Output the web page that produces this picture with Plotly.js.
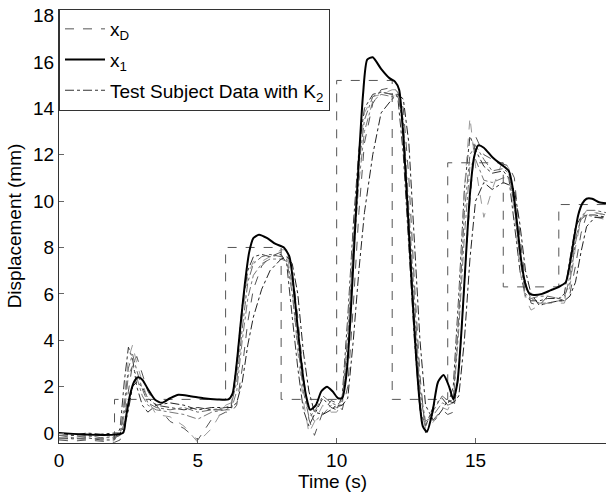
<!DOCTYPE html>
<html>
<head>
<meta charset="utf-8">
<script src="https://cdn.plot.ly/plotly-3.0.1.min.js"></script>
<style>html,body{margin:0;padding:0;background:#fff;}#chart{width:607px;height:493px;}</style>
</head>
<body>
<div id="chart"></div>
<script>
// Desired trajectory x_D (step values, held until next step time)
var tD = [0, 2, 6, 8, 10, 12, 14, 16, 18, 19.7];
var xD = [-0.25, 1.45, 8.0, 1.45, 15.2, 1.45, 11.65, 6.3, 9.85, 9.85];

// Model response x_1
var t1 = [0, 2.3, 2.4, 2.55, 2.7, 2.85, 3.0, 3.2, 3.45, 3.7, 4.0, 4.3, 4.7, 5.2, 5.7, 6.1, 6.25, 6.4, 6.55, 6.7,
          6.85, 7.0, 7.2, 7.5, 7.8, 8.1, 8.3, 8.45, 8.6, 8.75, 8.9, 9.05, 9.25, 9.45, 9.65, 9.85, 10.05, 10.2, 10.35, 10.5,
          10.65, 10.8, 10.95, 11.1, 11.3, 11.6, 11.9, 12.1, 12.25, 12.4, 12.55, 12.7, 12.85, 13.0, 13.1, 13.25, 13.45, 13.65, 13.85, 14.05,
          14.2, 14.35, 14.5, 14.65, 14.8, 14.95, 15.1, 15.3, 15.6, 15.9, 16.2, 16.35, 16.5, 16.65, 16.8, 16.95, 17.1, 17.4, 17.7, 18.0,
          18.25, 18.4, 18.55, 18.7, 18.85, 19.0, 19.2, 19.45, 19.7];
var x1 = [0, 0, 0.6, 1.6, 2.2, 2.4, 2.3, 1.9, 1.45, 1.3, 1.5, 1.65, 1.6, 1.5, 1.45, 1.45, 1.7, 3.0, 4.8, 6.5,
          7.8, 8.4, 8.55, 8.4, 8.15, 8.0, 7.6, 6.3, 4.5, 2.8, 1.6, 1.0, 1.2, 1.8, 2.0, 1.8, 1.5, 1.5, 2.5, 5.0,
          8.5, 11.8, 14.6, 16.1, 16.2, 15.7, 15.3, 15.15, 14.8, 12.8, 9.8, 6.5, 3.5, 1.2, 0.3, 0.05, 0.9, 2.2, 2.5, 2.0,
          1.45, 2.2, 4.5, 7.5, 10.3, 11.9, 12.4, 12.3, 11.9, 11.6, 11.3, 10.5, 9.0, 7.4, 6.4, 6.0, 5.95, 6.0, 6.15, 6.3,
          6.5, 7.3, 8.4, 9.4, 9.9, 10.1, 10.1, 9.95, 9.9];

// Test subject data with K_2 (shared time base)
var tS = [0, 0.5, 1, 1.5, 2, 2.2, 2.35, 2.5, 2.65, 2.8,
          3, 3.2, 3.5, 4, 4.5, 5, 5.5, 6, 6.2, 6.4,
          6.6, 6.8, 7, 7.3, 7.6, 8, 8.2, 8.4, 8.6, 8.8,
          9, 9.2, 9.5, 9.8, 10, 10.2, 10.4, 10.6, 10.8, 11,
          11.3, 11.6, 12, 12.2, 12.4, 12.6, 12.8, 13, 13.2, 13.5,
          13.8, 14, 14.2, 14.4, 14.6, 14.8, 15, 15.3, 15.6, 16,
          16.2, 16.4, 16.6, 16.8, 17, 17.3, 17.6, 18, 18.2, 18.4,
          18.6, 18.8, 19, 19.3, 19.7];
var s1 = [-0.2, -0.25, -0.2, -0.3, -0.3, 0.2, 2.2, 3.7, 3.2, 2.0,
          1.2, 0.9, 1.2, 1.1, 1.0, 1.1, 1.0, 1.0, 1.1, 3.0,
          5.5, 7.0, 7.6, 7.7, 7.6, 7.7, 7.3, 5.0, 2.8, 1.0,
          0.3, 0.8, 1.5, 1.1, 1.0, 1.6, 5.0, 9.0, 12.2, 14.0,
          14.6, 14.7, 14.6, 14.5, 12.0, 8.0, 4.0, 1.0, 0.3, 1.2,
          1.5, 1.2, 2.0, 6.0, 10.5, 12.8, 12.2, 11.5, 11.2, 11.3,
          11.0, 9.0, 7.0, 5.9, 5.7, 5.7, 5.8, 5.8, 6.0, 7.5,
          8.9, 9.3, 9.4, 9.4, 9.3];
var s2 = [-0.1, -0.1, -0.15, -0.1, -0.15, -0.1, 0.8, 2.5, 2.9, 2.4,
          1.6, 1.2, 1.0, 0.9, 0.8, 0.6, 0.9, 1.0, 1.0, 1.8,
          4.0, 5.8, 6.8, 7.3, 7.5, 7.5, 7.4, 6.5, 4.2, 2.2,
          1.0, 0.5, 0.8, 1.2, 1.1, 1.2, 3.5, 7.5, 10.8, 13.0,
          14.3, 14.6, 14.5, 14.6, 13.5, 9.5, 5.5, 2.0, 0.5, 0.8,
          1.3, 1.2, 1.3, 4.5, 8.5, 11.5, 11.8, 10.9, 10.8, 11.0,
          11.0, 10.0, 7.8, 6.3, 5.8, 5.6, 5.6, 5.7, 5.7, 6.8,
          8.4, 9.2, 9.4, 9.3, 9.2];
var s3 = [-0.3, -0.35, -0.3, -0.35, -0.4, -0.3, 0.5, 1.8, 3.0, 3.3,
          2.6, 1.8, 1.2, 0.5, 0.2, -0.3, 0.6, 0.9, 0.9, 1.2,
          2.8, 4.8, 6.2, 7.2, 7.6, 7.8, 7.8, 7.0, 5.0, 2.5,
          0.6, -0.1, 0.9, 1.4, 1.3, 1.0, 2.0, 5.5, 9.5, 12.5,
          14.2, 14.8, 14.9, 14.7, 14.0, 11.0, 6.5, 2.5, 0.0, 0.6,
          1.0, 0.8, 0.9, 2.5, 6.5, 10.0, 12.8, 12.0, 11.8, 11.6,
          11.5, 11.0, 8.5, 6.5, 5.6, 5.5, 5.9, 5.8, 5.7, 6.0,
          7.2, 8.6, 9.4, 9.5, 9.4];
var s4 = [0.0, -0.1, 0.0, -0.05, 0.0, 0.0, 0.2, 1.0, 2.0, 2.2,
          2.0, 1.5, 1.2, 1.3, 1.2, 1.0, 1.1, 1.1, 1.1, 1.3,
          2.2, 3.8, 5.0, 6.2, 7.0, 7.5, 7.6, 7.3, 6.0, 3.5,
          1.8, 0.9, 0.8, 1.0, 1.2, 1.2, 1.5, 4.0, 7.0, 9.5,
          12.0, 13.8, 14.4, 14.6, 14.4, 12.5, 8.5, 4.0, 1.2, 0.5,
          1.0, 1.4, 1.3, 1.6, 4.0, 7.5, 10.0, 10.8, 10.5, 10.8,
          10.7, 10.5, 9.0, 7.0, 6.0, 5.5, 5.6, 5.7, 5.7, 5.9,
          6.5, 7.8, 8.9, 9.3, 9.3];
var s5 = [-0.2, -0.2, -0.3, -0.2, -0.25, 0.0, 1.5, 3.2, 3.8, 3.0,
          2.2, 1.4, 0.8, 0.7, 0.3, -0.4, 0.2, 1.2, 1.3, 2.5,
          5.0, 6.8, 7.4, 7.4, 7.6, 7.9, 7.9, 6.2, 3.5, 1.4,
          0.0, 0.5, 1.2, 0.9, 0.9, 1.3, 4.5, 8.5, 11.8, 13.8,
          14.5, 14.6, 14.8, 14.8, 13.0, 8.5, 4.5, 1.2, 0.2, 0.5,
          1.1, 1.0, 1.5, 5.5, 10.5, 13.6, 11.5, 9.3, 10.5, 11.8,
          11.4, 9.5, 7.0, 5.8, 5.3, 5.5, 5.6, 5.6, 5.6, 6.3,
          8.0, 9.2, 9.6, 9.5, 9.4];
var s6 = [-0.1, -0.2, -0.1, -0.2, -0.2, -0.1, 1.2, 2.8, 3.4, 2.7,
          1.9, 1.3, 1.1, 1.0, 1.1, 0.9, 1.0, 1.1, 1.2, 2.2,
          4.5, 6.5, 7.3, 7.6, 7.7, 7.6, 7.5, 6.0, 3.8, 1.8,
          0.7, 0.9, 1.6, 1.3, 1.2, 1.4, 4.2, 8.2, 11.5, 13.5,
          14.5, 14.7, 14.6, 14.6, 13.2, 9.0, 5.0, 1.8, 0.3, 1.0,
          1.6, 1.4, 1.4, 5.0, 9.5, 12.0, 12.4, 11.8, 11.3, 11.4,
          11.2, 9.8, 7.5, 6.0, 5.8, 5.9, 5.9, 5.8, 5.9, 6.5,
          8.2, 9.3, 9.6, 9.6, 9.5];

var subjects = [s1, s2, s3, s4, s5, s6];
var subjColors = ['#333333', '#777777', '#555555', '#222222', '#999999', '#666666'];
var subjDash = ['dashdot', 'dashdot', 'dash', 'dashdot', 'dash', 'dashdot'];

var FONT = 'Liberation Sans, Arial, Helvetica, sans-serif';
var traces = [];
subjects.forEach(function (s, i) {
  traces.push({
    x: tS, y: s, type: 'scatter', mode: 'lines',
    name: 'Test Subject Data with K<sub>2</sub>',
    legendgroup: 'subj', showlegend: i === 0, legendrank: 3,
    line: {color: subjColors[i], width: 1, dash: subjDash[i]}
  });
});
traces.push({
  x: tD, y: xD, type: 'scatter', mode: 'lines', name: 'x<sub>D</sub>', legendrank: 1,
  legendgroup: 'xd',
  line: {color: '#555555', width: 1, dash: 'dash', shape: 'hv'}
});
traces.push({
  x: t1, y: x1, type: 'scatter', mode: 'lines', name: 'x<sub>1</sub>', legendrank: 2,
  legendgroup: 'x1',
  line: {color: '#000000', width: 2, shape: 'spline', smoothing: 0.6}
});

var layout = {
  width: 607, height: 493,
  margin: {l: 59, r: 1, t: 9, b: 50, pad: 0},
  paper_bgcolor: '#ffffff', plot_bgcolor: '#ffffff',
  font: {family: FONT, size: 19, color: '#000'},
  showlegend: true,
  legend: {
    x: 0, y: 1, xanchor: 'left', yanchor: 'top',
    bgcolor: '#ffffff', bordercolor: '#333333', borderwidth: 1,
    font: {family: FONT, size: 19, color: '#000'},
    itemwidth: 40,
    tracegroupgap: 3
  },
  xaxis: {
    range: [0, 19.7], tickvals: [0, 5, 10, 15], ticktext: ['0', '5', '10', '15'],
    ticks: 'inside', ticklen: 5, tickcolor: '#666', tickwidth: 1,
    showline: true, linecolor: '#333', linewidth: 1, mirror: false,
    showgrid: false, zeroline: false,
    tickfont: {family: FONT, size: 19, color: '#000'},
    title: {text: 'Time (s)', font: {family: FONT, size: 19, color: '#000'}, standoff: 4}
  },
  yaxis: {
    range: [-0.43, 18.28], tickvals: [0, 2, 4, 6, 8, 10, 12, 14, 16, 18],
    ticks: 'inside', ticklen: 5, tickcolor: '#666', tickwidth: 1,
    showline: true, linecolor: '#333', linewidth: 1, mirror: false,
    showgrid: false, zeroline: false,
    tickfont: {family: FONT, size: 19, color: '#000'},
    title: {text: 'Displacement (mm)', font: {family: FONT, size: 19, color: '#000'}, standoff: 6}
  }
};

Plotly.newPlot('chart', traces, layout, {displayModeBar: false, staticPlot: true});
</script>
</body>
</html>
